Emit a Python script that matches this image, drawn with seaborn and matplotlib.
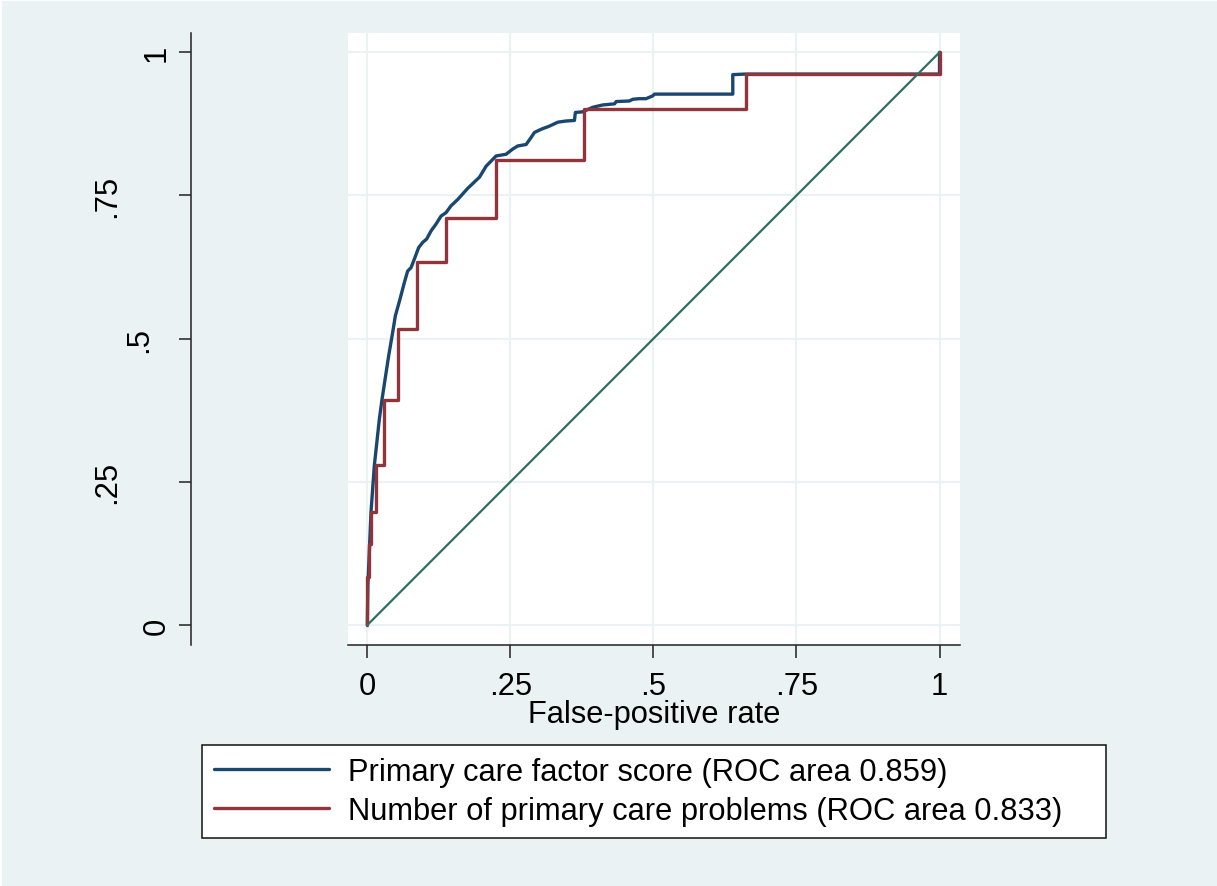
import matplotlib
matplotlib.use("Agg")
import matplotlib.pyplot as plt
import matplotlib.transforms as mtransforms
from matplotlib.lines import Line2D
import seaborn as sns
import pandas as pd

# ---------------- data ----------------
xticks = [0, 0.25, 0.5, 0.75, 1]
xtick_labels = ["0", ".25", ".5", ".75", "1"]
yticks = [0, 0.25, 0.5, 0.75, 1]
ytick_labels = ["0", ".25", ".5", ".75", "1"]
x_label = "False-positive rate"
series_labels = [
    "Primary care factor score (ROC area 0.859)",
    "Number of primary care problems (ROC area 0.833)",
]

score_fpr = [0.0, 0.001, 0.004, 0.0064, 0.0122, 0.021, 0.0257, 0.031, 0.0373,
             0.0443, 0.049, 0.0571, 0.0647, 0.0705, 0.0764, 0.0822, 0.0897,
             0.0967, 0.1037, 0.1113, 0.120, 0.1288, 0.1375, 0.1463, 0.158,
             0.175, 0.196, 0.2075, 0.225, 0.2425, 0.254, 0.263, 0.2775, 0.286,
             0.292, 0.3037, 0.318, 0.333, 0.347, 0.362, 0.3636, 0.376, 0.394,
             0.411, 0.432, 0.435, 0.458, 0.464, 0.4755, 0.487, 0.499, 0.5017,
             0.6387, 0.6387, 0.661, 1.0, 1.0]
score_tpr = [0.0, 0.07, 0.14, 0.197, 0.278, 0.3595, 0.394, 0.429, 0.470,
             0.511, 0.540, 0.569, 0.598, 0.618, 0.624, 0.639, 0.659,
             0.668, 0.674, 0.688, 0.700, 0.714, 0.720, 0.732, 0.743,
             0.762, 0.782, 0.801, 0.819, 0.822, 0.831, 0.8365, 0.839, 0.851,
             0.860, 0.8656, 0.871, 0.878, 0.880, 0.881, 0.895, 0.896, 0.904,
             0.908, 0.910, 0.914, 0.915, 0.918, 0.919, 0.919, 0.924, 0.927,
             0.927, 0.961, 0.962, 0.962, 1.0]

problems_fpr = [0.0, 0.003, 0.0064, 0.0152, 0.0297, 0.053, 0.086, 0.1375,
                0.225, 0.378, 0.661, 1.0, 1.0]
problems_tpr = [0.0, 0.083, 0.141, 0.198, 0.279, 0.393, 0.517, 0.634,
                0.7115, 0.8115, 0.9017, 0.9628, 1.0]

ref_x = [0, 1]
ref_y = [0, 1]

# ---------------- style ----------------
BG = "#EAF2F3"
BLUE = "#1A476F"
RED = "#90353B"
GREEN = "#2F6F60"
FS = 22.2

sns.set_theme(style="white")
plt.rcParams["font.family"] = ["Liberation Sans", "DejaVu Sans"]
plt.rcParams["font.size"] = FS

W, H = 1217, 887
fig = plt.figure(figsize=(W / 100, H / 100), dpi=100, facecolor=BG)

ax_l, ax_r, ax_t, ax_b = 347.7, 960.0, 34.0, 645.5
ax = fig.add_axes([ax_l / W, 1 - ax_b / H, (ax_r - ax_l) / W, (ax_b - ax_t) / H])
ax.set_facecolor("white")

df_score = pd.DataFrame({"fpr": score_fpr, "tpr": score_tpr})
df_prob = pd.DataFrame({"fpr": problems_fpr, "tpr": problems_tpr})
df_ref = pd.DataFrame({"fpr": ref_x, "tpr": ref_y})

sns.lineplot(data=df_score, x="fpr", y="tpr", sort=False, estimator=None,
             color=BLUE, lw=2.4, ax=ax, zorder=3)
sns.lineplot(data=df_prob, x="fpr", y="tpr", sort=False, estimator=None,
             color=RED, lw=2.4, drawstyle="steps-pre", ax=ax, zorder=4)
sns.lineplot(data=df_ref, x="fpr", y="tpr", sort=False, estimator=None,
             color=GREEN, lw=1.6, ax=ax, zorder=5)

ax.set_xlim(-0.0343, 1.0358)
ax.set_ylim(-0.034, 1.0337)

# grid
ax.set_xticks(xticks)
ax.set_xticklabels(xtick_labels)
ax.set_yticks(yticks)
ax.set_yticklabels([])
ax.grid(True, color=BG, lw=1.5, zorder=0)
ax.set_axisbelow(True)

# spines
for s in ["top", "right"]:
    ax.spines[s].set_visible(False)
for s in ["left", "bottom"]:
    ax.spines[s].set_color("#222222")
    ax.spines[s].set_linewidth(1.1)
ax.spines["left"].set_position(("outward", 112.8))

ax.tick_params(axis="x", direction="out", length=9.4, width=1.1, color="#222222",
               pad=10, labelsize=FS, labelcolor="black", bottom=True)
ax.tick_params(axis="y", direction="out", length=8.6, width=1.1, color="#222222",
               left=True, labelleft=False)

ax.set_xlabel(x_label, fontsize=FS, labelpad=-2.0, color="black")
ax.set_ylabel("")

# rotated y tick labels (Stata-like placement: longer labels sit further left)
ytrans = mtransforms.blended_transform_factory(fig.transFigure, ax.transData)
ytexts = []
for v, lab in zip(yticks, ytick_labels):
    t = ax.text(155 / W, v, lab, rotation=90, ha="center", va="center",
                fontsize=FS, color="black", transform=ytrans, clip_on=False)
    ytexts.append(t)
fig.canvas.draw()
renderer = fig.canvas.get_renderer()
for t in ytexts:
    bb = t.get_window_extent(renderer)
    length = bb.height
    cx = 189.5 - 1.92 * length
    t.set_x(cx / W)

# legend
h = [Line2D([0], [0], color=BLUE, lw=2.4), Line2D([0], [0], color=RED, lw=2.4)]
leg = ax.legend(h, series_labels, loc="upper left",
                bbox_to_anchor=(-0.2384, -0.3262, 1.4764, 0.1623),
                mode="expand", borderaxespad=0, borderpad=0.4,
                handlelength=3.73, handletextpad=0.62, labelspacing=0.28,
                frameon=True, fancybox=False, framealpha=1,
                edgecolor="#111111", facecolor="white", fontsize=FS)
leg.get_frame().set_linewidth(1.1)
for txt in leg.get_texts():
    txt.set_color("black")

# thin white edge at top and left of graph region
fig.add_artist(Line2D([0, 1], [1, 1], transform=fig.transFigure, color="white", lw=2))
fig.add_artist(Line2D([0, 0], [0, 1], transform=fig.transFigure, color="white", lw=2))

fig.savefig("out.png", dpi=100, facecolor=BG)
